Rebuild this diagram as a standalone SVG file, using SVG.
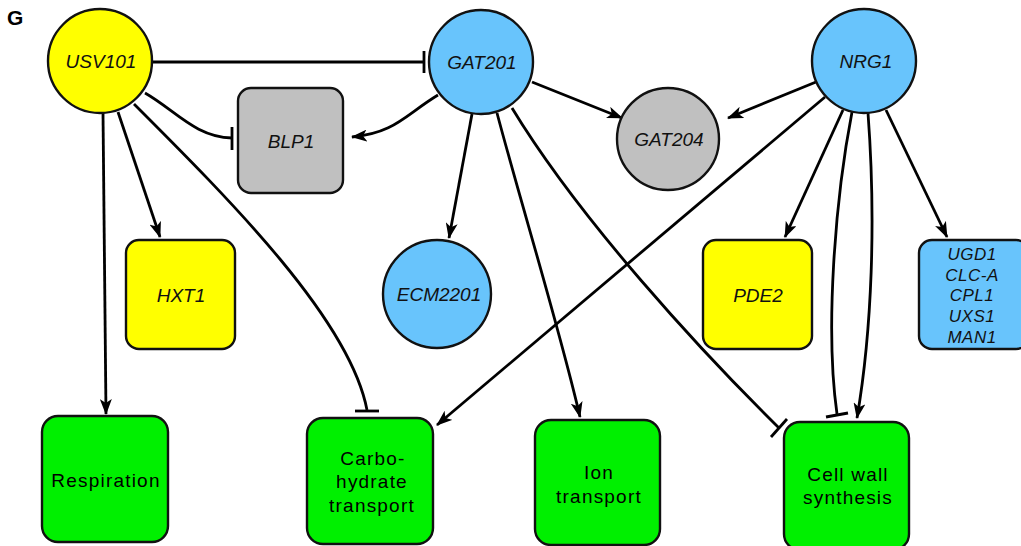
<svg xmlns="http://www.w3.org/2000/svg" width="1021" height="546" viewBox="0 0 1021 546">
<style>
.n{stroke:#111;stroke-width:2.4}
.y{fill:#ffff00}.b{fill:#68c4fc}.g{fill:#c0c0c0}.gr{fill:#00f000}
.t{font-family:"Liberation Sans",Arial,sans-serif;font-size:19px;font-style:italic;text-anchor:middle;fill:#111}
.u{font-size:17px;letter-spacing:0.5px}
.s{font-family:"Liberation Sans",Arial,sans-serif;font-size:19px;letter-spacing:1.2px;text-anchor:middle;fill:#000}
.e{fill:none;stroke:#000;stroke-width:2.8}
.a{marker-end:url(#arr)}
.bar{stroke:#000;stroke-width:2.8}
</style>
<defs>
<marker id="arr" markerWidth="17" markerHeight="12" refX="15" refY="6" orient="auto" markerUnits="userSpaceOnUse">
<path d="M0,0 L16,6 L0,12 L4,6 z" fill="#000"/>
</marker>
</defs>
<rect width="1021" height="546" fill="#fff"/>
<text x="7" y="25" font-family="Liberation Sans,Arial,sans-serif" font-size="21" font-weight="bold">G</text>
<g id="connectors">
<path class="e" d="M152,62 L424,62"/><line class="bar" x1="424" y1="51" x2="424" y2="73"/>
<path class="e" d="M145,93 C175,110 195,137 232,138"/><line class="bar" x1="232" y1="127" x2="232" y2="150"/>
<path class="e a" d="M103,113 L106,414"/>
<path class="e a" d="M118,112 L160,237"/>
<path class="e" d="M134,104 C230,200 350,320 367,410"/><line class="bar" x1="355" y1="411" x2="379" y2="411"/>
<path class="e a" d="M438,95 C405,115 395,133 352,137"/>
<path class="e a" d="M532,82 L622,118"/>
<path class="e a" d="M472,114 L449,238"/>
<path class="e a" d="M497,113 C520,200 560,330 580,417"/>
<path class="e" d="M512,108 C580,220 700,350 779,428"/><line class="bar" x1="771" y1="437" x2="787" y2="419"/>
<path class="e a" d="M816,82 L728,118"/>
<path class="e a" d="M825,97 L437,425"/>
<path class="e a" d="M843,110 L785,237"/>
<path class="e" d="M852,112 C835,200 825,330 837,414"/><line class="bar" x1="826" y1="417" x2="848" y2="413"/>
<path class="e a" d="M868,113 C876,220 872,330 857,418"/>
<path class="e a" d="M886,110 L947,237"/>
</g>
<g id="USV101"><circle class="n y" cx="100" cy="61" r="52"/><text class="t" x="101" y="68">USV101</text></g>
<g id="GAT201"><circle class="n b" cx="481" cy="62" r="52"/><text class="t" x="482" y="69">GAT201</text></g>
<g id="NRG1"><circle class="n b" cx="864" cy="61" r="52"/><text class="t" x="866" y="68">NRG1</text></g>
<g id="GAT204"><circle class="n g" cx="668" cy="139" r="51"/><text class="t" x="669" y="146">GAT204</text></g>
<g id="BLP1"><rect class="n g" x="238" y="88" width="105" height="105" rx="13"/><text class="t" x="291" y="148">BLP1</text></g>
<g id="HXT1"><rect class="n y" x="126" y="240" width="109" height="109" rx="13"/><text class="t" x="181" y="302">HXT1</text></g>
<g id="ECM2201"><circle class="n b" cx="437" cy="294" r="54"/><text class="t" x="439" y="301">ECM2201</text></g>
<g id="PDE2"><rect class="n y" x="703" y="240" width="109" height="109" rx="13"/><text class="t" x="758" y="302">PDE2</text></g>
<g id="UGD1"><rect class="n b" x="919" y="240" width="110" height="109" rx="13"/>
<text class="t u" x="972" y="260">UGD1</text>
<text class="t u" x="972" y="281">CLC-A</text>
<text class="t u" x="972" y="301">CPL1</text>
<text class="t u" x="972" y="322">UXS1</text>
<text class="t u" x="972" y="343">MAN1</text></g>
<g id="Respiration"><rect class="n gr" x="42" y="416" width="126" height="126" rx="16"/><text class="s" x="106" y="487">Respiration</text></g>
<g id="Carbo"><rect class="n gr" x="307" y="418" width="126" height="126" rx="16"/>
<text class="s" x="373" y="465">Carbo-</text>
<text class="s" x="372" y="488">hydrate</text>
<text class="s" x="372" y="512">transport</text></g>
<g id="Ion"><rect class="n gr" x="535" y="420" width="125" height="125" rx="16"/>
<text class="s" x="599" y="479">Ion</text>
<text class="s" x="599" y="503">transport</text></g>
<g id="CellWall"><rect class="n gr" x="784" y="422" width="125" height="128" rx="16"/>
<text class="s" x="848" y="481">Cell wall</text>
<text class="s" x="848" y="504">synthesis</text></g>
</svg>
